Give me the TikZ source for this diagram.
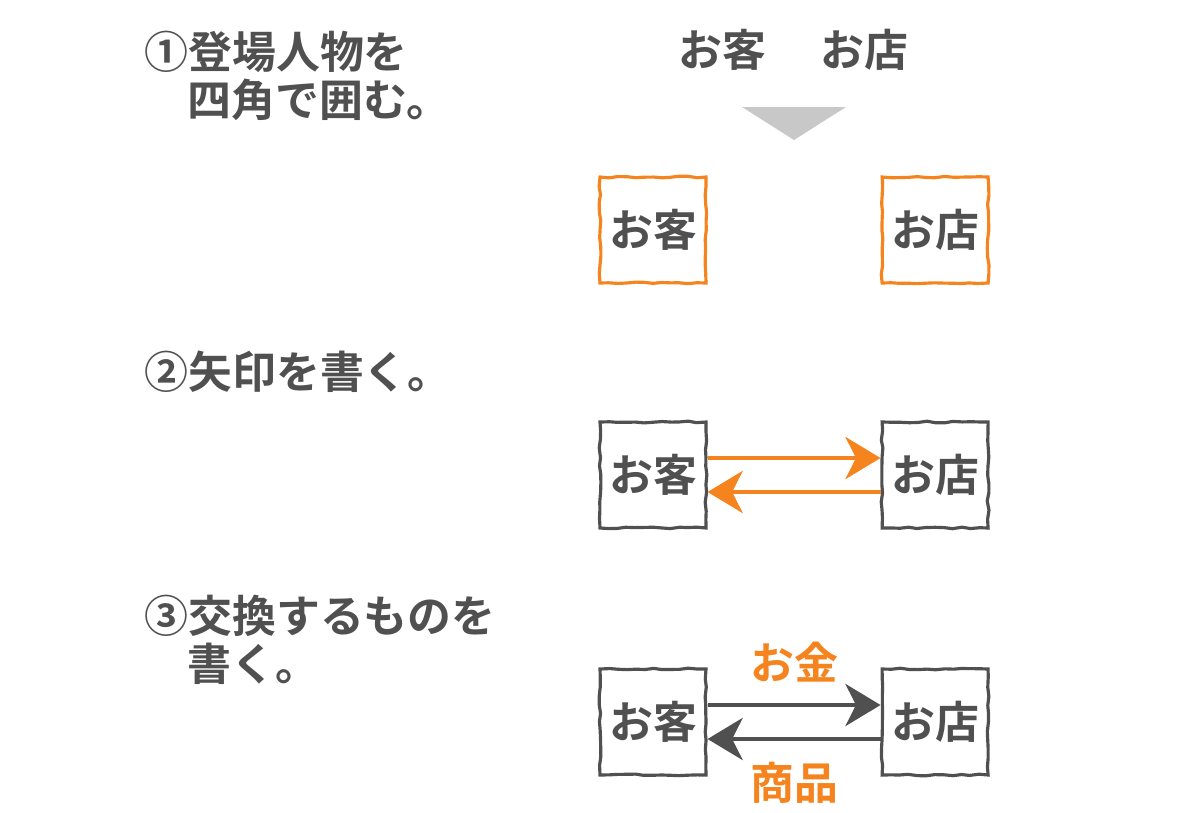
\documentclass[tikz,border=0pt]{standalone}
\usepackage{fontspec}
\setmainfont{Noto Sans CJK JP}[BoldFont={Noto Sans CJK JP Bold}]
\usetikzlibrary{positioning,arrows.meta,decorations.pathmorphing}

\definecolor{txtgray}{HTML}{505050}
\definecolor{orng}{HTML}{F5841F}
\definecolor{trigray}{HTML}{C8C8C8}

\tikzset{
  sketchbox/.style = {draw, line width=1.8pt, minimum width=2.12cm, minimum height=2.12cm,
    inner sep=0pt, decorate, decoration={random steps, segment length=5pt, amplitude=0.5pt}},
  big/.style = {font=\fontsize{25pt}{30pt}\selectfont\bfseries, text=txtgray, inner sep=0pt},
  flow/.style = {line width=2pt, arrows={-{Stealth[length=20pt, width=24pt, inset=6pt]}}},
}

\begin{document}
\pgfmathsetseed{7}
\begin{tikzpicture}[x=0.02cm, y=-0.02cm]
    \useasboundingbox (0,0) rectangle (1200,812);

    % steps
    \node[big, anchor=west] (s1a) at (144,52) {①登場人物を};
    \node[big, anchor=west] (s1b) at (187,100) {四角で囲む。};
    \node[big, anchor=west] (s2) at (144,372) {②矢印を書く。};
    \node[big, anchor=west] (s3a) at (144,616) {③交換するものを};
    \node[big, anchor=west] (s3b) at (187,664) {書く。};

    % row 1
    \node[big] (w1) at (722,50) {お客};
    \node[big] (w2) at (864,50) {お店};
    \fill[trigray] (742,107) -- (846,107) -- (794,140) -- cycle;
    \node[big, sketchbox, draw=orng] (a1) at (653,230) {お客};
    \node[big, sketchbox, draw=orng, right = 3.46cm of a1] (a2) {お店};

    % row 2
    \node[big, sketchbox, draw=txtgray] (b1) at (653,475) {お客};
    \node[big, sketchbox, draw=txtgray, right = 3.46cm of b1] (b2) {お店};
    \draw[flow, orng] ([yshift=0.34cm]b1.east) -- ([yshift=0.34cm]b2.west);
    \draw[flow, orng] ([yshift=-0.34cm]b2.west) -- ([yshift=-0.34cm]b1.east);

    % row 3
    \node[big, sketchbox, draw=txtgray] (c1) at (653,722) {お客};
    \node[big, sketchbox, draw=txtgray, right = 3.46cm of c1] (c2) {お店};
    \draw[flow, txtgray] ([yshift=0.34cm]c1.east) -- ([yshift=0.34cm]c2.west)
      node[midway, above=0.42cm, big, text=orng] (money) {お金};
    \draw[flow, txtgray] ([yshift=-0.34cm]c2.west) -- ([yshift=-0.34cm]c1.east)
      node[midway, below=0.42cm, big, text=orng] (goods) {商品};
\end{tikzpicture}
\end{document}
